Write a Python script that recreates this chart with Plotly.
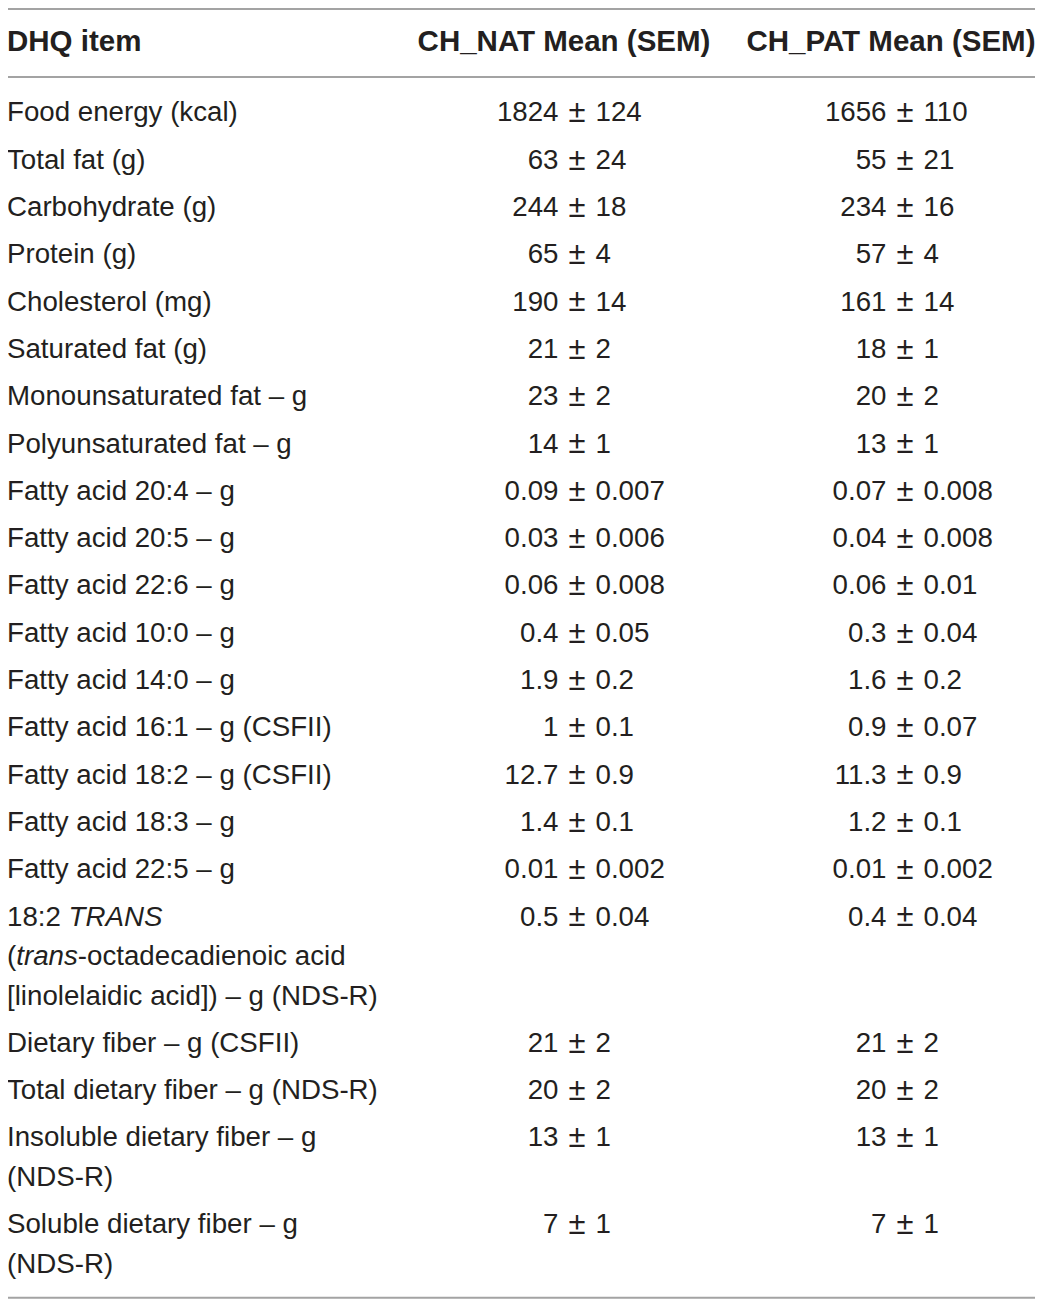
import plotly.graph_objects as go

# table contents
items = [
    ["Food energy (kcal)"],
    ["Total fat (g)"],
    ["Carbohydrate (g)"],
    ["Protein (g)"],
    ["Cholesterol (mg)"],
    ["Saturated fat (g)"],
    ["Monounsaturated fat – g"],
    ["Polyunsaturated fat – g"],
    ["Fatty acid 20:4 – g"],
    ["Fatty acid 20:5 – g"],
    ["Fatty acid 22:6 – g"],
    ["Fatty acid 10:0 – g"],
    ["Fatty acid 14:0 – g"],
    ["Fatty acid 16:1 – g (CSFII)"],
    ["Fatty acid 18:2 – g (CSFII)"],
    ["Fatty acid 18:3 – g"],
    ["Fatty acid 22:5 – g"],
    ["18:2 <i>TRANS</i>", "(<i>trans</i>-octadecadienoic acid", "[linolelaidic acid]) – g (NDS-R)"],
    ["Dietary fiber – g (CSFII)"],
    ["Total dietary fiber – g (NDS-R)"],
    ["Insoluble dietary fiber – g", "(NDS-R)"],
    ["Soluble dietary fiber – g", "(NDS-R)"],
]
nat_mean = ["1824", "63", "244", "65", "190", "21", "23", "14", "0.09", "0.03", "0.06",
            "0.4", "1.9", "1", "12.7", "1.4", "0.01", "0.5", "21", "20", "13", "7"]
nat_sem = ["124", "24", "18", "4", "14", "2", "2", "1", "0.007", "0.006", "0.008",
           "0.05", "0.2", "0.1", "0.9", "0.1", "0.002", "0.04", "2", "2", "1", "1"]
pat_mean = ["1656", "55", "234", "57", "161", "18", "20", "13", "0.07", "0.04", "0.06",
            "0.3", "1.6", "0.9", "11.3", "1.2", "0.01", "0.4", "21", "20", "13", "7"]
pat_sem = ["110", "21", "16", "4", "14", "1", "2", "1", "0.008", "0.008", "0.01",
           "0.04", "0.2", "0.07", "0.9", "0.1", "0.002", "0.04", "2", "2", "1", "1"]
headers = ["DHQ item", "CH_NAT Mean (SEM)", "CH_PAT Mean (SEM)"]

W, H = 1043, 1305
OFF = 8   # page body margin; axis units are page pixels
ink = "#231f20"
rule = "#a3a3a3"
fnt = "Liberation Sans"
size = 27.7

header_y = 43.5
first_y = 114.5
pitch = 47.3
line_gap = 39.5

# y of every row (first line) and of every text line in the item column
row_y = []
line_y, line_txt = [], []
extra = 0
for k, lines in enumerate(items):
    y = first_y + pitch * k + line_gap * extra
    row_y.append(y)
    for j, t in enumerate(lines):
        line_y.append(y + line_gap * j)
        line_txt.append(t)
    extra += len(lines) - 1
bottom_y = line_y[-1] + 32

left_x = 7
pm_x = [577, 905]   # position of the ± sign in each value column
gap = 18.5

fig = go.Figure()
font = dict(family=fnt, size=size, color=ink)

# item column
fig.add_trace(go.Scatter(x=[left_x] * len(line_txt), y=line_y, text=line_txt, mode="text",
                         textposition="middle right", textfont=font, hoverinfo="skip"))

for px_, means, sems in [(pm_x[0], nat_mean, nat_sem), (pm_x[1], pat_mean, pat_sem)]:
    n = len(means)
    fig.add_trace(go.Scatter(x=[px_ - gap] * n, y=row_y, text=means, mode="text",
                             textposition="middle left", textfont=font, hoverinfo="skip"))
    fig.add_trace(go.Scatter(x=[px_] * n, y=row_y, text=["±"] * n, mode="text",
                             textposition="middle center",
                             textfont=dict(family=fnt, size=31, color=ink), hoverinfo="skip"))
    fig.add_trace(go.Scatter(x=[px_ + gap] * n, y=row_y, text=sems, mode="text",
                             textposition="middle right", textfont=font, hoverinfo="skip"))

# header row
hfont = dict(family=fnt, size=29.5, color=ink)
fig.add_trace(go.Scatter(x=[left_x], y=[header_y], text=["<b>" + headers[0] + "</b>"], mode="text",
                         textposition="middle right", textfont=hfont, hoverinfo="skip"))
fig.add_trace(go.Scatter(x=[564, 891], y=[header_y] * 2,
                         text=["<b>" + h + "</b>" for h in headers[1:]], mode="text",
                         textposition="middle center", textfont=hfont, hoverinfo="skip"))

# rules: top (as high as the page margin allows), under the header, bottom
for y in [9, 77, bottom_y]:
    fig.add_shape(type="line", x0=6, x1=1036, y0=y, y1=y, xref="x", yref="y",
                  line=dict(color=rule, width=2))

fig.update_xaxes(range=[OFF, W], visible=False, fixedrange=True)
fig.update_yaxes(range=[H, OFF], visible=False, fixedrange=True)
fig.update_layout(width=W - OFF, height=H - OFF, margin=dict(l=0, r=0, t=0, b=0, pad=0),
                  paper_bgcolor="white", plot_bgcolor="white", showlegend=False)

fig.write_html("out.html")
